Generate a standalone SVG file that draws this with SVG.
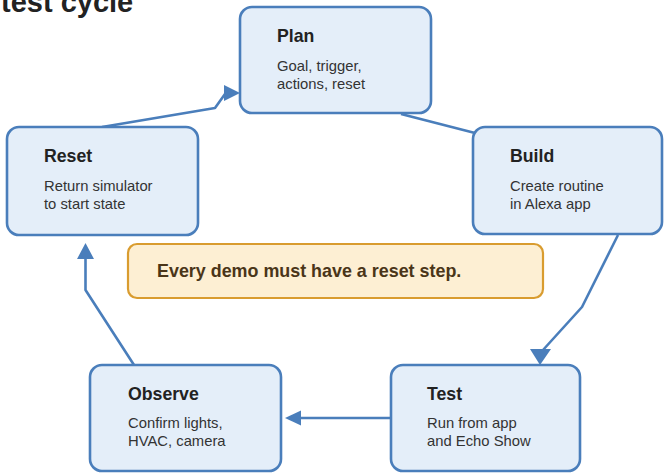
<svg xmlns="http://www.w3.org/2000/svg" width="665" height="473" viewBox="0 0 665 473">
<style>
.node rect{fill:#e4eef9;stroke:#4a7ebb;stroke-width:2.6}
.t{font-family:"Liberation Sans",Arial,sans-serif;font-weight:bold;font-size:17.7px;fill:#222}
.b{font-family:"Liberation Sans",Arial,sans-serif;font-size:14.8px;fill:#333}
.edge{fill:none;stroke:#4a7ebb;stroke-width:2.6;stroke-linejoin:round}
.head{fill:#4a7ebb}
</style>
<rect width="665" height="473" fill="#ffffff"/>
<text x="1" y="12" font-family="Liberation Sans,Arial,sans-serif" font-weight="bold" font-size="29" fill="#222">test cycle</text>
<g id="connectors">
<path class="edge" d="M401,114 L475,133"/>
<path class="edge" d="M618,235 L582,307 L543,350"/>
<polygon class="head" points="530,349 551,349 540,365"/>
<path class="edge" d="M391,418 L300,418"/>
<polygon class="head" points="301,410.5 301,425.5 285,418"/>
<path class="edge" d="M134,365 L85.5,290 L85.5,258"/>
<polygon class="head" points="77,259 94,259 85.5,243"/>
<path class="edge" d="M102,127 L215,108 L225,94"/>
<polygon class="head" points="224,85 240,93 224,101"/>
</g>
<g id="plan" class="node">
<rect x="240" y="7" width="191" height="106" rx="12"/>
<text class="t" x="277" y="42">Plan</text>
<text class="b" x="277" y="70.5">Goal, trigger,</text>
<text class="b" x="277" y="88.5">actions, reset</text>
</g>
<g id="build" class="node">
<rect x="473" y="127" width="189" height="107" rx="12"/>
<text class="t" x="510" y="162">Build</text>
<text class="b" x="510" y="190.5">Create routine</text>
<text class="b" x="510" y="208.5">in Alexa app</text>
</g>
<g id="reset" class="node">
<rect x="7" y="127" width="191" height="108" rx="12"/>
<text class="t" x="44" y="162">Reset</text>
<text class="b" x="44" y="190.5">Return simulator</text>
<text class="b" x="44" y="208.5">to start state</text>
</g>
<g id="observe" class="node">
<rect x="90" y="365" width="191" height="106" rx="12"/>
<text class="t" x="128" y="399.5">Observe</text>
<text class="b" x="128" y="427.5">Confirm lights,</text>
<text class="b" x="128" y="445.5">HVAC, camera</text>
</g>
<g id="test" class="node">
<rect x="391" y="365" width="189" height="106" rx="12"/>
<text class="t" x="427" y="399.5">Test</text>
<text class="b" x="427" y="428">Run from app</text>
<text class="b" x="427" y="446">and Echo Show</text>
</g>
<g id="note">
<rect x="128" y="244" width="415" height="54" rx="9" fill="#fdefd3" stroke="#d99c2f" stroke-width="2.2"/>
<text x="157" y="277" font-family="Liberation Sans,Arial,sans-serif" font-weight="bold" font-size="17.9px" fill="#4a3518">Every demo must have a reset step.</text>
</g>
</svg>
